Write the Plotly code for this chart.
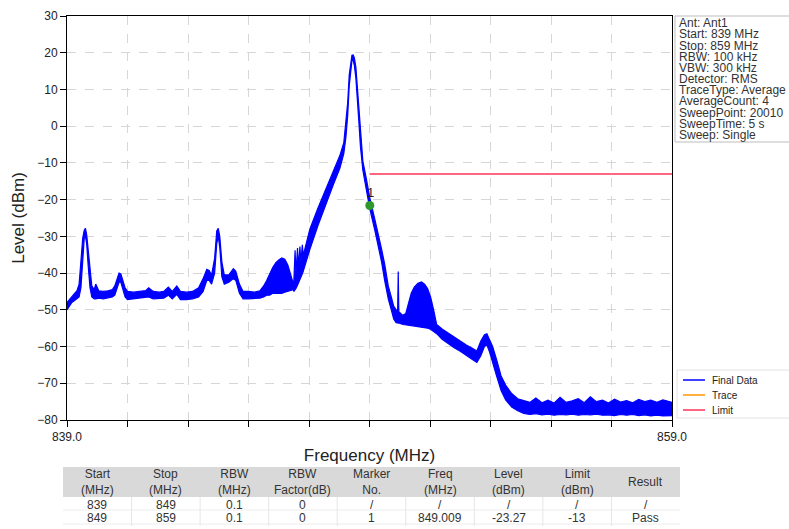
import plotly.graph_objects as go

# ---------------- data ----------------
freq_mhz = [
    839.00, 839.08, 839.16, 839.25, 839.33, 839.40, 839.46, 839.52, 839.57, 839.61,
    839.65, 839.70, 839.76, 839.82, 839.90, 839.95, 840.05, 840.20, 840.35, 840.50,
    840.58, 840.65, 840.72, 840.78, 840.85, 840.92, 841.00, 841.20, 841.40, 841.60,
    841.70, 841.85, 842.05, 842.20, 842.35, 842.48, 842.63, 842.75, 842.95, 843.15,
    843.35, 843.50, 843.62, 843.70, 843.78, 843.88, 843.95, 844.00, 844.05, 844.12,
    844.20, 844.35, 844.50, 844.58, 844.70, 844.82, 845.00, 845.20, 845.38, 845.50,
    845.60, 845.70, 845.80, 845.90, 846.00, 846.10, 846.20, 846.30, 846.40, 846.48,
    846.50, 846.54, 846.57, 846.62, 846.65, 846.70, 846.73, 846.78, 846.81, 847.03,
    847.30, 847.59, 847.80, 848.02, 848.15, 848.22, 848.28, 848.33, 848.38, 848.42,
    848.46, 848.50, 848.55, 848.60, 848.65, 848.70, 848.78, 848.90, 849.01, 849.18,
    849.30, 849.40, 849.50, 849.62, 849.72, 849.80, 849.88, 849.93, 849.95, 849.97,
    850.10, 850.20, 850.28, 850.38, 850.48, 850.60, 850.72, 850.82, 850.92, 851.02,
    851.12, 851.22, 851.40, 851.60, 851.80, 852.00, 852.20, 852.40, 852.55, 852.68,
    852.80, 852.88, 852.97, 853.07, 853.20, 853.35, 853.50, 853.70, 853.90, 854.10,
    854.30, 854.50, 854.70, 854.90, 855.10, 855.30, 855.50, 855.70, 855.90, 856.10,
    856.30, 856.50, 856.70, 856.90, 857.10, 857.30, 857.50, 857.70, 857.90, 858.10,
    858.30, 858.50, 858.70, 859.00,
]
level_low_dbm = [
    -50.0, -49.0, -48.0, -47.5, -47.0, -46.5, -44.0, -36.0, -30.5, -30.0,
    -32.0, -38.0, -44.0, -46.5, -47.0, -47.0, -46.8, -47.0, -46.8, -46.5,
    -46.0, -44.0, -42.5, -42.5, -44.5, -46.5, -47.2, -47.0, -47.0, -46.8,
    -46.5, -47.0, -47.0, -46.8, -46.0, -47.0, -45.8, -47.2, -47.2, -47.0,
    -46.5, -45.0, -42.0, -42.0, -43.0, -40.0, -32.0, -30.0, -33.0, -41.0,
    -43.0, -42.5, -41.5, -42.0, -45.5, -47.0, -47.0, -47.0, -46.8, -46.5,
    -46.0, -46.0, -45.5, -45.5, -45.5, -45.5, -45.2, -45.0, -44.8, -44.5,
    -45.0, -44.6, -44.2, -43.3, -42.8, -41.8, -41.2, -40.2, -39.5, -33.5,
    -27.0, -20.5, -16.0, -11.5, -7.5, -3.0, 3.0, 11.0, 16.0, 17.8,
    18.0, 16.5, 13.0, 8.0, 1.0, -5.5, -12.0, -17.5, -22.5, -28.5,
    -33.0, -37.0, -42.0, -47.0, -50.0, -52.5, -53.5, -53.5, -53.6, -53.6,
    -54.0, -54.2, -54.2, -54.3, -54.4, -54.5, -54.6, -54.8, -55.0, -55.3,
    -55.8, -56.5, -58.0, -59.2, -60.3, -61.3, -62.5, -63.5, -64.3, -62.5,
    -60.0, -59.5, -61.5, -64.5, -68.0, -72.0, -74.5, -76.5, -77.5, -78.2,
    -78.5, -78.3, -78.6, -78.4, -78.7, -78.5, -78.6, -78.4, -78.7, -78.5,
    -78.6, -78.4, -78.7, -78.6, -78.8, -78.5, -78.7, -78.5, -78.8, -78.6,
    -78.9, -78.7, -78.9, -78.8,
]
level_high_dbm = [
    -48.0, -47.2, -46.5, -45.5, -44.8, -43.0, -37.0, -30.5, -28.3, -27.8,
    -29.5, -34.0, -40.0, -43.5, -44.5, -43.0, -44.8, -45.0, -44.8, -44.5,
    -43.5, -41.5, -40.0, -40.2, -42.0, -44.0, -45.0, -45.2, -45.0, -44.8,
    -44.0, -45.0, -45.2, -45.0, -43.8, -45.0, -43.5, -45.0, -45.2, -45.0,
    -44.0, -41.5, -39.0, -39.3, -40.5, -36.0, -28.5, -27.8, -30.0, -37.0,
    -40.5, -40.5, -38.8, -39.5, -43.0, -45.0, -45.0, -45.2, -44.8, -43.5,
    -42.0, -40.0, -38.5, -37.2, -36.4, -35.9, -36.2, -37.8, -40.5, -42.8,
    -42.0, -33.8, -40.0, -33.2, -38.6, -32.8, -37.0, -32.3, -35.2, -28.0,
    -22.2, -16.5, -12.5, -8.0, -4.5, 0.5, 6.5, 14.0, 18.0, 19.3,
    19.4, 18.6, 16.0, 10.5, 3.5, -3.0, -9.5, -14.5, -19.5, -25.5,
    -29.5, -33.5, -37.5, -43.5, -46.5, -49.0, -50.0, -50.2, -39.6, -50.5,
    -51.5, -51.0, -48.5, -45.5, -43.8, -42.8, -42.4, -43.0, -44.2, -46.5,
    -50.0, -54.0, -55.2, -56.3, -57.5, -58.6, -59.6, -60.5, -61.2, -58.5,
    -56.8, -56.5, -58.0, -60.0, -63.5, -68.0, -70.5, -72.8, -74.2, -74.8,
    -75.2, -74.0, -75.3, -74.6, -75.4, -73.8, -75.2, -74.8, -74.2, -75.3,
    -73.7, -75.0, -74.6, -75.4, -74.3, -75.1, -74.7, -75.3, -74.4, -75.0,
    -74.6, -75.2, -74.5, -75.2,
]

limit_freq_mhz = [849.0, 859.0]
limit_level_dbm = [-13.0, -13.0]

marker_freq_mhz = [849.009]
marker_level_dbm = [-21.6]
marker_labels = ["1"]

x_tick_vals = [839, 841, 843, 845, 847, 849, 851, 853, 855, 857, 859]
x_tick_text = ["839.0", "", "", "", "", "", "", "", "", "", "859.0"]
y_tick_vals = [-80, -70, -60, -50, -40, -30, -20, -10, 0, 10, 20, 30]

legend_names = ["Final Data", "Trace", "Limit"]
legend_colors = ["#0000ff", "#ff9900", "#ff3355"]

info_lines = [
    "Ant: Ant1", "Start: 839 MHz", "Stop: 859 MHz", "RBW: 100 kHz", "VBW: 300 kHz",
    "Detector: RMS", "TraceType: Average", "AverageCount: 4", "SweepPoint: 20010",
    "SweepTime: 5 s", "Sweep: Single",
]

table_header = ["Start<br>(MHz)", "Stop<br>(MHz)", "RBW<br>(MHz)", "RBW<br>Factor(dB)",
                "Marker<br>No.", "Freq<br>(MHz)", "Level<br>(dBm)", "Limit<br>(dBm)", "Result"]
table_row1 = ["839", "849", "0.1", "0", "/", "/", "/", "/", "/"]
table_row2 = ["849", "859", "0.1", "0", "1", "849.009", "-23.27", "-13", "Pass"]

# ---------------- figure ----------------
W, H = 789, 529
FONT = "Liberation Sans, Arial, sans-serif"
TXT = "#222222"


def px(x):
    return x / W


def py(y):
    return 1 - y / H


fig = go.Figure()

# spectrum band (dense trace rendered as envelope)
fig.add_trace(go.Scatter(x=freq_mhz, y=level_low_dbm, mode="lines",
                         line=dict(color=legend_colors[0], width=1.2), showlegend=False,
                         hoverinfo="skip"))
fig.add_trace(go.Scatter(x=freq_mhz, y=level_high_dbm, mode="lines", fill="tonexty",
                         fillcolor=legend_colors[0], line=dict(color=legend_colors[0], width=1.2),
                         showlegend=False, name=legend_names[0]))
fig.add_trace(go.Scatter(x=limit_freq_mhz, y=limit_level_dbm, mode="lines",
                         name=legend_names[2], showlegend=False,
                         line=dict(color=legend_colors[2], width=1.5)))
# marker
fig.add_trace(go.Scatter(x=marker_freq_mhz, y=marker_level_dbm, mode="markers",
                         marker=dict(color="#2e9a2e", size=9), showlegend=False))

fig.update_layout(
    width=W, height=H,
    margin=dict(l=0, r=0, t=0, b=0),
    paper_bgcolor="white", plot_bgcolor="white",
    font=dict(family=FONT, size=12, color=TXT),
    showlegend=False,
    xaxis=dict(domain=[px(67), px(672)], range=[839, 859], tickmode="array",
               tickvals=x_tick_vals, ticktext=x_tick_text, ticks="outside", ticklen=6,
               tickcolor="black", showline=True, linecolor="black", linewidth=1,
               mirror=True, showgrid=True, gridcolor="#d6d6d6", griddash="dash",
               gridwidth=1, zeroline=False, automargin=False,
               tickfont=dict(family=FONT, size=12, color=TXT),
               title=dict(text="Frequency (MHz)", font=dict(family=FONT, size=17, color=TXT),
                          standoff=5)),
    yaxis=dict(domain=[py(420), py(16)], range=[-80, 30], tickmode="array",
               tickvals=y_tick_vals, ticks="outside", ticklen=6, tickcolor="black",
               showline=True, linecolor="black", linewidth=1, mirror=True,
               showgrid=True, gridcolor="#d6d6d6", griddash="dash", gridwidth=1,
               zeroline=False, automargin=False, tickfont=dict(family=FONT, size=12, color=TXT),
               title=dict(text="Level (dBm)", font=dict(family=FONT, size=17, color=TXT),
                          standoff=8)),
)

shapes = []
annotations = []

# marker label
annotations.append(dict(text=marker_labels[0], x=marker_freq_mhz[0], y=marker_level_dbm[0],
                        xref="x", yref="y", showarrow=False, yshift=13, xshift=1,
                        font=dict(family=FONT, size=13, color="#222222")))

# info box
shapes.append(dict(type="rect", xref="paper", yref="paper", x0=px(675), x1=px(800),
                   y0=py(142), y1=py(16), line=dict(color="#bdbdbd", width=1),
                   fillcolor="rgba(0,0,0,0)", layer="below"))
for i, t in enumerate(info_lines):
    annotations.append(dict(text=t, xref="paper", yref="paper", x=px(678),
                            y=py(23.3 + i * 11.17), xanchor="left", yanchor="middle",
                            showarrow=False, borderpad=0,
                            font=dict(family=FONT, size=12, color="#333333")))

# manual legend
shapes.append(dict(type="rect", xref="paper", yref="paper", x0=px(677), x1=px(800),
                   y0=py(418), y1=py(370), line=dict(color="#e4e4e4", width=1),
                   fillcolor="white", layer="below"))
for i, (nm, col) in enumerate(zip(legend_names, legend_colors)):
    yy = 380 + i * 15
    shapes.append(dict(type="line", xref="paper", yref="paper", x0=px(683), x1=px(705),
                       y0=py(yy), y1=py(yy), line=dict(color=col, width=1.5)))
    annotations.append(dict(text=nm, xref="paper", yref="paper", x=px(711), y=py(yy),
                            xanchor="left", yanchor="middle", showarrow=False, borderpad=0,
                            font=dict(family=FONT, size=10, color=TXT)))

# table
t_x0, t_x1 = 63, 680
ncol = len(table_header)
cw = (t_x1 - t_x0) / ncol
shapes.append(dict(type="rect", xref="paper", yref="paper", x0=px(t_x0), x1=px(t_x1),
                   y0=py(497), y1=py(467), fillcolor="#d9d9d9", line=dict(width=0),
                   layer="below"))
for yy in [510, 524]:
    shapes.append(dict(type="line", xref="paper", yref="paper", x0=px(t_x0), x1=px(t_x1),
                       y0=py(yy), y1=py(yy), line=dict(color="#ececec", width=1)))
for c in range(1, ncol):
    xx = t_x0 + c * cw
    shapes.append(dict(type="line", xref="paper", yref="paper", x0=px(xx), x1=px(xx),
                       y0=py(497), y1=py(526), line=dict(color="#e6e6e6", width=1)))
for c in range(ncol):
    cx = t_x0 + (c + 0.5) * cw
    annotations.append(dict(text=table_header[c], xref="paper", yref="paper", x=px(cx),
                            y=py(481.5), xanchor="center", yanchor="middle", showarrow=False,
                            font=dict(family=FONT, size=12, color="#333333")))
    annotations.append(dict(text=table_row1[c], xref="paper", yref="paper", x=px(cx),
                            y=py(505), xanchor="center", yanchor="middle", showarrow=False,
                            borderpad=0, font=dict(family=FONT, size=12, color="#333333")))
    annotations.append(dict(text=table_row2[c], xref="paper", yref="paper", x=px(cx),
                            y=py(518), xanchor="center", yanchor="middle", showarrow=False,
                            borderpad=0, font=dict(family=FONT, size=12, color="#333333")))

fig.update_layout(shapes=shapes, annotations=annotations)
fig.write_html("out.html",
               config={"displayModeBar": False, "staticPlot": True},
               post_script="document.body.style.margin='0';document.body.style.overflow='hidden';")
